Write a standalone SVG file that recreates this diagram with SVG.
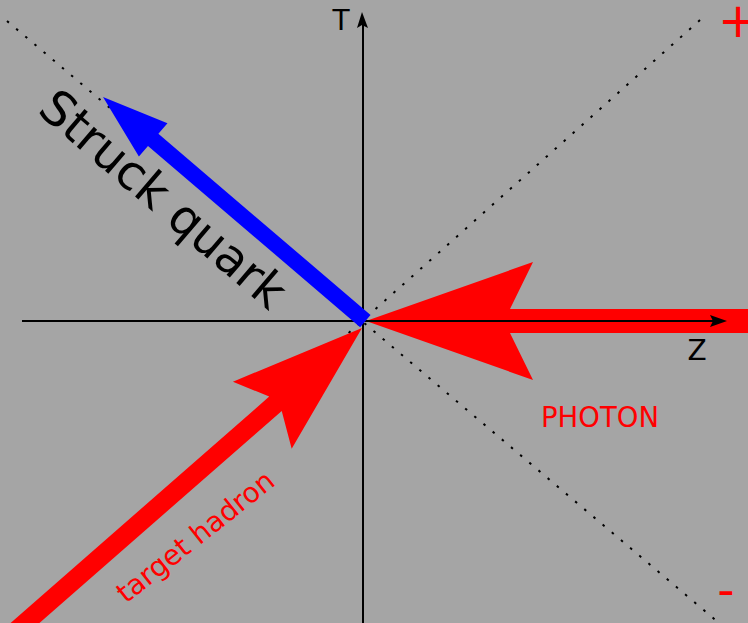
<svg xmlns="http://www.w3.org/2000/svg" width="748" height="623" viewBox="0 0 748 623">
<style>
.dot{stroke:#000;stroke-width:2;stroke-dasharray:2.5 9.5;fill:none}
.axis{stroke:#000;stroke-width:2;fill:none}
.lbl{font-family:"DejaVu Sans","Liberation Sans",sans-serif}
</style>
<rect width="748" height="623" fill="#a5a5a5"/>
<g id="lightcone">
<line class="dot" x1="7" y1="21" x2="719" y2="623"/>
<line class="dot" x1="700" y1="20" x2="23" y2="623"/>
</g>
<g id="photon">
<path fill="#ff0000" d="M748,309 L510,309 L533,262 L366,321 L533,380 L510,333 L748,333 Z"/>
<text class="lbl" x="600" y="427" font-size="27.5" fill="#ff0000" text-anchor="middle">PHOTON</text>
</g>
<g id="target-hadron">
<path fill="#ff0000" transform="translate(362,328) rotate(-41.2)" d="M0,0 L-132.5,-44.6 L-115,-9.5 L-480,-9.5 L-480,9.5 L-115,9.5 L-132.5,44.6 Z"/>
<text class="lbl" transform="translate(126,604) rotate(-38.5)" font-size="28" fill="#ff0000">target hadron</text>
</g>
<g id="axes">
<line class="axis" x1="363" y1="623" x2="363" y2="22"/>
<path d="M362,12 L368,28 L362,25 L357,28 Z" fill="#000"/>
<line class="axis" x1="22" y1="321" x2="717" y2="321"/>
<path d="M727,321 L710,315 L713,321 L710,327 Z" fill="#000"/>
<text class="lbl" x="341" y="30" font-size="28" fill="#000" text-anchor="middle">T</text>
<text class="lbl" x="697" y="360" font-size="28" fill="#000" text-anchor="middle">Z</text>
</g>
<g id="struck-quark">
<path fill="#0000ff" transform="translate(103,97) rotate(220.5)" d="M0,0 L-66,-22 L-66,-8 L-345,-8 L-345,8 L-66,8 L-66,22 Z"/>
<text class="lbl" transform="translate(36,112) rotate(40.5)" font-size="48" fill="#000">Struck quark</text>
</g>
<g id="signs">
<text class="lbl" x="738" y="37" font-size="48" fill="#ff0000" text-anchor="middle">+</text>
<text class="lbl" x="726" y="606" font-size="48" fill="#ff0000" text-anchor="middle">-</text>
</g>
</svg>
